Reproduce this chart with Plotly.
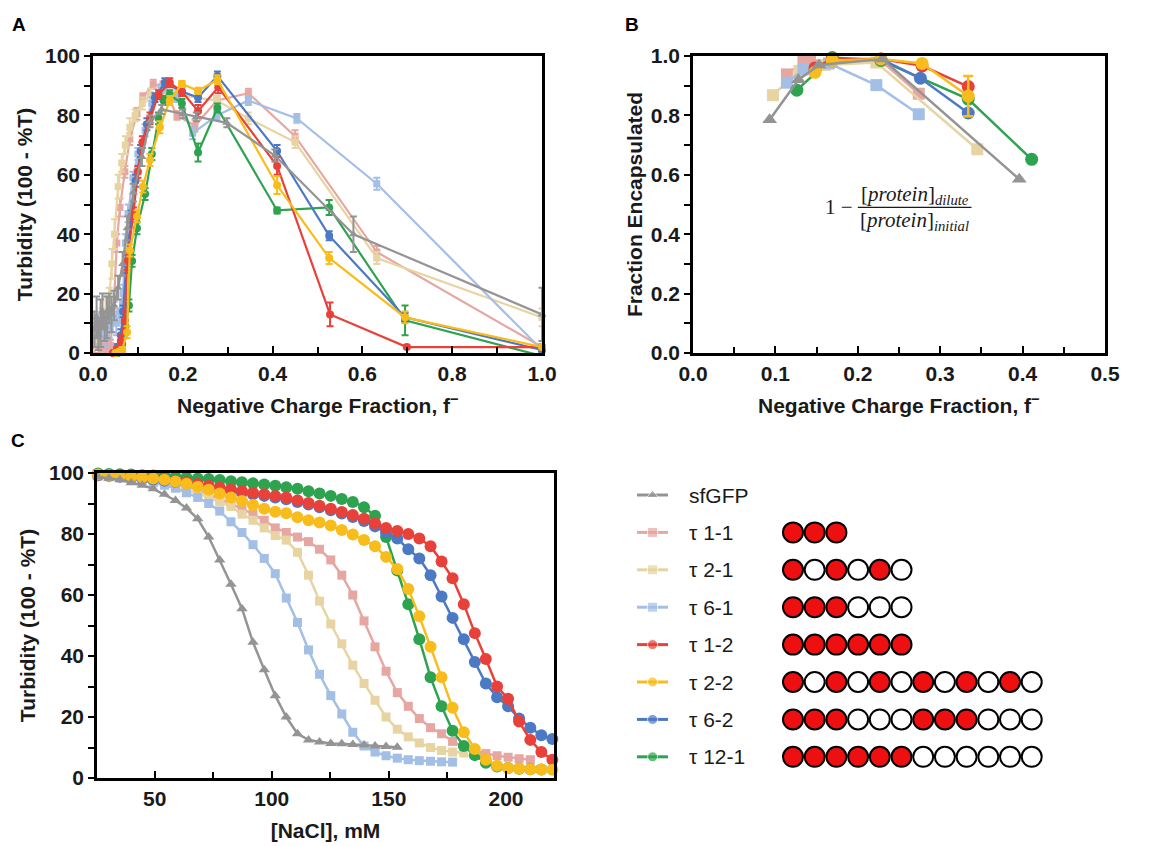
import plotly.graph_objects as go

FONT = "Arial, 'Liberation Sans', sans-serif"
SERIF = "'Liberation Serif', 'DejaVu Serif', serif"

NAMES = ["sfGFP", "τ 1-1", "τ 2-1", "τ 6-1", "τ 1-2", "τ 2-2", "τ 6-2", "τ 12-1"]
COLORS = ["#949494", "#E6A7A3", "#E8D4A2", "#A4BFE6", "#E8413A", "#F8BD1C", "#4C79C4", "#2EA34F"]
SYMBOLS = ["triangle-up", "square", "square", "square", "circle", "circle", "circle", "circle"]
DRAW_ORDER = [1, 2, 3, 7, 6, 4, 5, 0]

# ---------------- Panel A: turbidity vs negative charge fraction ----------------
A_SFGFP_X = [0.003, 0.008, 0.012, 0.017, 0.021, 0.026, 0.031, 0.036, 0.041, 0.047, 0.056, 0.066, 0.076, 0.090, 0.109, 0.127, 0.153, 0.200, 0.230, 0.298, 0.405, 0.580, 1.000]
A_SFGFP_Y = [8, 12, 6, 10, 14, 9, 12, 15, 13, 16, 22, 30, 42, 54, 66, 78, 82, 80.5, 79.5, 77.5, 66.5, 40, 13]
A_SFGFP_E = [6, 7, 5, 8, 6, 5, 7, 5, 6, 5, 4, 4, 4, 3, 3, 2, 1.5, 1.5, 1.5, 1.5, 2, 6, 9]

A_T11_X = [0.003, 0.012, 0.021, 0.030, 0.039, 0.047, 0.053, 0.060, 0.071, 0.082, 0.098, 0.111, 0.134, 0.156, 0.187, 0.227, 0.276, 0.346, 0.450, 0.632, 1.000]
A_T11_Y = [2, 2, 2.5, 2, 2.5, 18, 37, 49, 61, 72, 80.5, 86, 90.5, 90, 80, 76.5, 85, 87.5, 73, 34, 2]
A_T11_E = [2, 2, 2, 2, 2, 3, 3, 3, 2, 2, 2, 1.5, 1.5, 1.5, 1.5, 2, 1.5, 1.5, 2, 2, 1]

A_T21_X = [0.004, 0.012, 0.020, 0.028, 0.036, 0.042, 0.048, 0.056, 0.064, 0.072, 0.082, 0.094, 0.110, 0.128, 0.150, 0.187, 0.276, 0.346, 0.450, 0.632, 1.000]
A_T21_Y = [4, 6, 10, 14, 18, 30, 40, 56, 64, 70, 76, 80, 84, 87, 87.5, 87, 85, 79, 71, 32, 12]
A_T21_E = [3, 4, 5, 5, 4, 5, 5, 4, 3, 3, 3, 2, 2, 2, 2, 1.5, 1.5, 2, 2, 2, 3]

A_T61_X = [0.004, 0.012, 0.020, 0.028, 0.036, 0.044, 0.052, 0.060, 0.067, 0.072, 0.078, 0.089, 0.100, 0.116, 0.131, 0.152, 0.187, 0.222, 0.276, 0.346, 0.454, 0.632, 1.000]
A_T61_Y = [6, 8, 10, 5, 9, 12, 10, 14, 20, 37, 47, 59, 67, 75, 84, 89, 86, 74, 80, 85, 79, 57, 1]
A_T61_E = [4, 5, 4, 3, 4, 5, 4, 4, 3, 3, 3, 2, 2, 2, 2, 1.5, 1.5, 2, 1.5, 1.5, 1.5, 2, 1]

A_T12_X = [0.045, 0.053, 0.062, 0.071, 0.076, 0.090, 0.100, 0.110, 0.127, 0.146, 0.171, 0.198, 0.234, 0.279, 0.410, 0.528, 0.699, 1.000]
A_T12_Y = [0, 1, 4, 11, 31, 47, 61, 71, 79, 87, 91, 88, 81.5, 89.5, 63, 13, 2, 2]
A_T12_E = [0.5, 1, 2, 3, 3, 2, 2, 2, 2, 1.5, 1.5, 1.5, 2, 2, 3, 4, 0.5, 0.5]

A_T22_X = [0.050, 0.058, 0.065, 0.076, 0.082, 0.098, 0.111, 0.127, 0.149, 0.171, 0.198, 0.234, 0.277, 0.410, 0.526, 0.695, 1.000]
A_T22_Y = [0, 0.5, 1, 7, 34.5, 46, 56, 65, 76, 85, 90.6, 88.3, 92, 56.5, 32, 12, 2]
A_T22_E = [0.5, 0.5, 1, 2, 2, 2, 2, 2, 2, 1.5, 1, 1, 1.5, 3, 2, 2, 0.5]

A_T62_X = [0.045, 0.055, 0.062, 0.067, 0.074, 0.085, 0.095, 0.106, 0.120, 0.138, 0.160, 0.198, 0.234, 0.277, 0.410, 0.526, 0.695, 1.000]
A_T62_Y = [0, 2, 6, 14, 30, 46, 58, 68, 77, 86, 91, 88, 86, 93.3, 68, 39.5, 12, 1]
A_T62_E = [0.5, 1, 2, 2, 3, 2, 2, 2, 2, 1.5, 1.5, 1.5, 1.5, 1.5, 2, 1.5, 1.5, 0.5]

A_T121_X = [0.055, 0.065, 0.072, 0.080, 0.087, 0.098, 0.116, 0.131, 0.146, 0.157, 0.171, 0.198, 0.234, 0.277, 0.410, 0.526, 0.695, 1.000]
A_T121_Y = [0, 3, 9, 16, 31, 42, 53.5, 67, 79, 85, 87, 84, 67.5, 82.5, 48, 49, 11, -1]
A_T121_E = [0.5, 2, 2, 2, 2, 2, 2, 2, 2, 1.5, 1.5, 1.5, 3, 1.5, 1, 2.5, 5, 0.5]

# ---------------- Panel B: fraction encapsulated ----------------
B_SFGFP_X = [0.093, 0.128, 0.153, 0.230, 0.396]
B_SFGFP_Y = [0.785, 0.920, 0.970, 0.990, 0.585]
B_T11_X = [0.114, 0.134, 0.142, 0.228, 0.274]
B_T11_Y = [0.938, 0.980, 0.985, 0.985, 0.873]
B_T21_X = [0.097, 0.129, 0.160, 0.2225, 0.345]
B_T21_Y = [0.868, 0.950, 0.970, 0.978, 0.686]
B_T61_X = [0.114, 0.134, 0.165, 0.2225, 0.274]
B_T61_Y = [0.910, 0.955, 0.975, 0.902, 0.804]
B_T12_X = [0.148, 0.169, 0.228, 0.278, 0.334]
B_T12_Y = [0.960, 0.990, 0.990, 0.967, 0.897]
B_T22_X = [0.148, 0.169, 0.228, 0.278, 0.334]
B_T22_Y = [0.945, 0.985, 0.990, 0.975, 0.865]
B_T22_E = [0.01, 0.005, 0.005, 0.01, 0.068]
B_T62_X = [0.148, 0.169, 0.228, 0.276, 0.334]
B_T62_Y = [0.950, 0.985, 0.990, 0.925, 0.808]
B_T121_X = [0.126, 0.169, 0.228, 0.334, 0.411]
B_T121_Y = [0.885, 0.995, 0.985, 0.855, 0.652]

# ---------------- Panel C: salt titration ----------------
NACL_MM = [25.8, 30.5, 35.2, 40.0, 44.7, 49.4, 54.2, 58.9, 63.6, 68.4, 73.1, 77.8, 82.6, 87.3,
           92.0, 96.8, 101.5, 106.2, 111.0, 115.7, 120.4, 125.2, 129.9, 134.6, 139.4, 144.1,
           148.8, 153.6, 158.3, 163.0, 167.8, 172.5, 177.2, 182.0, 186.7, 191.4, 196.2, 200.9,
           205.6, 210.4, 215.1, 219.8]
C_SFGFP_Y = [98.7, 98.3, 97.8, 96.8, 96, 94.8, 93, 91, 88.5, 85, 79, 71.5, 63.5, 55.5, 44.5, 35.5,
             27, 20, 14.5, 12.5, 11.8, 11.3, 11.2, 11, 10.8, 10.5, 10.3, 10.1]
C_T11_Y = [99.2, 99, 98.8, 98.5, 98.2, 97.8, 97.2, 96.5, 95.5, 94.5, 93, 91.5, 90, 88.3, 86.5, 84.5,
           82, 80.5, 79, 77.5, 75, 71.5, 66.5, 60, 51.5, 43, 35, 28, 23.5, 19.5, 16.5, 14.5, 12,
           10.2, 9, 8, 7.3, 6.8, 6.3, 6]
C_T21_Y = [99, 98.8, 98.5, 98.2, 97.8, 97.2, 96.5, 95.5, 94.5, 93.3, 92, 90.5, 89, 86.5, 84.5, 82,
           79.5, 78, 74, 66.5, 58, 50.5, 44, 37, 31, 25.5, 20, 16, 13.5, 11.5, 10, 9, 8.5, 8.2]
C_T61_Y = [99, 98.8, 98.5, 98, 97.5, 96.8, 96, 95, 93.5, 92, 90, 87.5, 84, 80.5, 76.5, 72, 67, 59,
           51, 42, 34, 27, 21, 15, 10.5, 8.5, 7.3, 6.5, 6, 5.7, 5.5, 5.3, 5.2]
C_T12_Y = [99.5, 99.3, 99, 98.8, 98.5, 98.2, 97.8, 97.4, 97, 96.4, 95.8, 95.2, 94.6, 94, 93.5, 93,
           92.5, 92, 91, 90.2, 89.3, 88.3, 87.2, 86.2, 85, 83.5, 82, 81, 80, 78.5, 76, 71, 65.5,
           57, 47.5, 39, 30, 26, 18.5, 12.5, 8.5, 6]
C_T22_Y = [99.5, 99.3, 99, 98.8, 98.5, 98.2, 97.8, 97.2, 96.5, 95.5, 94.5, 93.3, 92, 90.8, 89.5,
           88.3, 87.3, 86.8, 85.5, 84.5, 83.8, 82.8, 81.3, 79.8, 78, 76, 72.5, 68.5, 62, 53, 43, 33,
           23, 15, 9.5, 6, 4, 3.3, 3, 2.9, 2.8, 2.7]
C_T62_Y = [99.3, 99.1, 98.8, 98.5, 98.2, 97.9, 97.5, 97.1, 96.6, 96, 95.4, 94.8, 94.2, 93.6, 93,
           92.5, 92, 91.4, 90.5, 89.7, 88.8, 87.8, 86.7, 85.6, 84.3, 82.5, 80.5, 78.5, 75, 72,
           66.5, 59.5, 52.5, 45.5, 38, 31, 26.5, 23.5, 19.5, 16.5, 14, 12.8]
C_T121_Y = [99.8, 99.7, 99.6, 99.5, 99.3, 99.2, 99, 98.8, 98.5, 98.2, 98, 97.7, 97.3, 97, 96.6,
            96.2, 95.8, 95.3, 94.8, 94, 93.3, 92.5, 91.5, 90.5, 88.8, 86, 79, 68, 57, 45.5, 33,
            23.5, 15.5, 10.5, 7.5, 5, 3.8, 3.3, 3, 2.9, 2.8]

# ---------------- Legend: charge patterns (1 = charged block, 0 = neutral block) ----------------
PATTERNS = [
    [],
    [1, 1, 1],
    [1, 0, 1, 0, 1, 0],
    [1, 1, 1, 0, 0, 0],
    [1, 1, 1, 1, 1, 1],
    [1, 0, 1, 0, 1, 0, 1, 0, 1, 0, 1, 0],
    [1, 1, 1, 0, 0, 0, 1, 1, 1, 0, 0, 0],
    [1, 1, 1, 1, 1, 1, 0, 0, 0, 0, 0, 0],
]

A_DATA = [
    (A_SFGFP_X, A_SFGFP_Y, A_SFGFP_E), (A_T11_X, A_T11_Y, A_T11_E), (A_T21_X, A_T21_Y, A_T21_E),
    (A_T61_X, A_T61_Y, A_T61_E), (A_T12_X, A_T12_Y, A_T12_E), (A_T22_X, A_T22_Y, A_T22_E),
    (A_T62_X, A_T62_Y, A_T62_E), (A_T121_X, A_T121_Y, A_T121_E),
]
B_DATA = [
    (B_SFGFP_X, B_SFGFP_Y, None), (B_T11_X, B_T11_Y, None), (B_T21_X, B_T21_Y, None),
    (B_T61_X, B_T61_Y, None), (B_T12_X, B_T12_Y, None), (B_T22_X, B_T22_Y, B_T22_E),
    (B_T62_X, B_T62_Y, None), (B_T121_X, B_T121_Y, None),
]
C_DATA = [C_SFGFP_Y, C_T11_Y, C_T21_Y, C_T61_Y, C_T12_Y, C_T22_Y, C_T62_Y, C_T121_Y]

fig = go.Figure()

A_MSIZE = {"triangle-up": 8, "square": 7, "circle": 8}
B_MSIZE = {"triangle-up": 13, "square": 12, "circle": 13}
C_MSIZE = {"triangle-up": 10, "square": 9, "circle": 12}

for i in DRAW_ORDER:
    x, y, e = A_DATA[i]
    fig.add_trace(go.Scatter(
        x=x, y=y, mode="lines+markers", xaxis="x", yaxis="y", showlegend=False, cliponaxis=False,
        line=dict(color=COLORS[i], width=2.2),
        marker=dict(symbol=SYMBOLS[i], size=A_MSIZE[SYMBOLS[i]], color=COLORS[i]),
        error_y=dict(type="data", array=e, color=COLORS[i], thickness=2, width=3.5),
    ))

for i in DRAW_ORDER:
    x, y, e = B_DATA[i]
    fig.add_trace(go.Scatter(
        x=x, y=y, mode="lines+markers", xaxis="x2", yaxis="y2", showlegend=False, cliponaxis=False,
        line=dict(color=COLORS[i], width=2.5),
        marker=dict(symbol=SYMBOLS[i], size=B_MSIZE[SYMBOLS[i]], color=COLORS[i]),
        error_y=dict(type="data", array=e, color=COLORS[i], thickness=2.5, width=5) if e else None,
    ))

for i in DRAW_ORDER:
    y = C_DATA[i]
    fig.add_trace(go.Scatter(
        x=NACL_MM[:len(y)], y=y, mode="lines+markers", xaxis="x3", yaxis="y3", showlegend=False,
        cliponaxis=False,
        line=dict(color=COLORS[i], width=2.5),
        marker=dict(symbol=SYMBOLS[i], size=C_MSIZE[SYMBOLS[i]], color=COLORS[i]),
    ))

# ---------------- custom legend (hidden axes x4/y4: one x unit = one circle, one y unit = one row) ----------------
LEG_LINE_X = [-7.19, -6.47, -5.76]
LEG_TEXT_X = -4.88
for r, name in enumerate(NAMES):
    fig.add_trace(go.Scatter(
        x=LEG_LINE_X, y=[r, r, r], mode="lines+markers", xaxis="x4", yaxis="y4", showlegend=False,
        line=dict(color=COLORS[r], width=3), cliponaxis=False, hoverinfo="skip",
        marker=dict(symbol=SYMBOLS[r], size=[0, 10, 0], color=COLORS[r]),
    ))
    fig.add_annotation(x=LEG_TEXT_X, y=r, xref="x4", yref="y4", text=name, showarrow=False,
                       xanchor="left", yanchor="middle",
                       font=dict(family=FONT, size=21, color="#1a1a1a"))

cx, cy, cc = [], [], []
for r, pat in enumerate(PATTERNS):
    for k, v in enumerate(pat):
        cx.append(k)
        cy.append(r)
        cc.append("#EE1010" if v else "white")
fig.add_trace(go.Scatter(
    x=cx, y=cy, mode="markers", xaxis="x4", yaxis="y4", showlegend=False, cliponaxis=False,
    hoverinfo="skip",
    marker=dict(symbol="circle", size=20, color=cc, line=dict(color="black", width=2)),
))

# ---------------- axes ----------------
TICKFONT = dict(family=FONT, size=21, color="#1a1a1a", weight="bold")
TITLEFONT = dict(family=FONT, size=21, color="#1a1a1a", weight="bold")


def xaxis(domain, rng, dtick, mdtick, anchor, title, tick0=0, fmt=None):
    d = dict(domain=domain, range=rng, anchor=anchor, automargin=False, showgrid=False, zeroline=False,
             showline=True, linecolor="black", linewidth=2.6, mirror=True,
             ticks="inside", ticklen=7, tickwidth=2.2, tickcolor="black",
             tick0=tick0, dtick=dtick, tickfont=TICKFONT,
             minor=dict(ticks="inside", ticklen=6, tickwidth=2.2, tickcolor="black", dtick=mdtick, tick0=tick0))
    if title:
        d["title"] = dict(text=title, font=TITLEFONT)
    if fmt:
        d["tickformat"] = fmt
    return d


def yaxis(domain, rng, dtick, mdtick, anchor, title, standoff, fmt=None):
    d = dict(domain=domain, range=rng, anchor=anchor, automargin=False, showgrid=False, zeroline=False,
             showline=True, linecolor="black", linewidth=2.6, mirror=True,
             ticks="outside", ticklen=6, tickwidth=2.2, tickcolor="black",
             tick0=0, dtick=dtick, tickfont=TICKFONT,
             minor=dict(ticks="outside", ticklen=6, tickwidth=2.2, tickcolor="black", dtick=mdtick),
             title=dict(text=title, font=TITLEFONT, standoff=standoff))
    if fmt:
        d["tickformat"] = fmt
    return d


W, H = 1168, 846
AX_A = [93 / W, 542 / W]
AX_B = [693 / W, 1105 / W]
F_TITLE = "Negative Charge Fraction, f<sup>−</sup>"
fig.update_layout(
    width=W, height=H, margin=dict(l=0, r=0, t=0, b=0, autoexpand=False),
    paper_bgcolor="white", plot_bgcolor="white", showlegend=False,
    font=dict(family=FONT, color="#1a1a1a"),
    xaxis=xaxis(AX_A, [0, 1.0], 0.2, 0.1, "y", None, fmt=".1f"),
    yaxis=yaxis([1 - 353 / H, 1 - 56 / H], [0, 100], 20, 10, "x", "Turbidity (100 - %T)", 7),
    xaxis2=xaxis(AX_B, [0, 0.5], 0.1, 0.05, "y2", None, fmt=".1f"),
    yaxis2=yaxis([1 - 353 / H, 1 - 56 / H], [0, 1.0], 0.2, 0.1, "x2", "Fraction Encapsulated", 3, ".1f"),
    xaxis3=xaxis([97 / W, 554 / W], [25.4, 220.5], 50, 25, "y3", "[NaCl], mM"),
    yaxis3=yaxis([1 - 778 / H, 1 - 473 / H], [0, 100], 20, 10, "x3", "Turbidity (100 - %T)", 8),
    xaxis4=dict(domain=[0.5, 1.0], range=[-9.63, 17.28], visible=False, anchor="y4", automargin=False),
    yaxis4=dict(domain=[1 - 776 / H, 1 - 476 / H], range=[7.513, -0.508], visible=False, anchor="x4",
                automargin=False),
)

# x-axis titles of panels A and B
for dom in (AX_A, AX_B):
    fig.add_annotation(x=(dom[0] + dom[1]) / 2, y=1 - 404 / H, xref="paper", yref="paper",
                       text=F_TITLE, showarrow=False, xanchor="center", yanchor="middle",
                       font=TITLEFONT)

# panel letters
for letter, px, py in [("A", 19, 25), ("B", 632, 25), ("C", 18, 440)]:
    fig.add_annotation(x=px / W, y=1 - py / H, xref="paper", yref="paper", text=letter,
                       showarrow=False, xanchor="center", yanchor="middle",
                       font=dict(family=FONT, size=19, color="black", weight="bold"))

# formula in panel B
FORMULA_FONT = dict(family=SERIF, size=21, color="#1a1a1a")
fig.add_annotation(x=0.1766, y=0.49, xref="x2", yref="y2", text="1 −", showarrow=False,
                   xanchor="center", yanchor="middle", font=FORMULA_FONT)
fig.add_annotation(x=0.269, y=0.532, xref="x2", yref="y2",
                   text="[<i>protein</i>]<sub><i>dilute</i></sub>", showarrow=False,
                   xanchor="center", yanchor="middle", font=FORMULA_FONT)
fig.add_annotation(x=0.269, y=0.443, xref="x2", yref="y2",
                   text="[<i>protein</i>]<sub><i>initial</i></sub>", showarrow=False,
                   xanchor="center", yanchor="middle", font=FORMULA_FONT)
fig.add_shape(type="line", xref="x2", yref="y2", x0=0.200, x1=0.338, y0=0.49, y1=0.49,
              line=dict(color="#1a1a1a", width=1.3))

fig.write_html("out.html")
